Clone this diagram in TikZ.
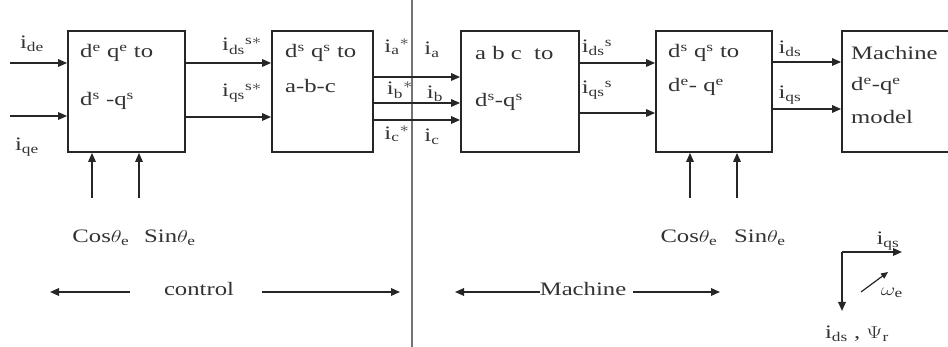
\documentclass[tikz,border=0pt]{standalone}
\usepackage{fontspec}
\setmainfont{Liberation Serif}
\setmathrm{Liberation Serif}
\usepackage{graphicx}
\usetikzlibrary{arrows.meta}
\newcommand{\W}[1]{\scalebox{1.3}[1]{#1}}
\newcommand{\R}[1]{\mathrm{#1}}
\begin{document}
\begin{tikzpicture}[x=1pt,y=-1pt,
  blk/.style={draw=black!85, line width=1.8pt, inner sep=0pt, minimum height=121pt},
  arr/.style={-{Triangle[length=9pt,width=7.5pt]}, line width=1.6pt, draw=black!85},
  sarr/.style={-{Triangle[length=7pt,width=6pt]}, line width=1.2pt, draw=black!85},
  txt/.style={font=\fontsize{19}{22}\selectfont, text=black!80, inner sep=0pt},
  divider/.style={draw=black!55, line width=1.2pt}]
\useasboundingbox (0,0) rectangle (948,347);
\clip (0,0) rectangle (948,347);
\fill[white] (0,0) rectangle (948,347);

% blocks
\node[blk, minimum width=117pt] (b1) at (126.5,91.5) {};
\node[blk, minimum width=101pt] (b2) at (322.5,91.5) {};
\node[blk, minimum width=118pt] (b3) at (520,91.5) {};
\node[blk, minimum width=116pt] (b4) at (714,91.5) {};
\node[blk, minimum width=140pt] (b5) at (912,91.5) {};

% block texts
\node[txt, anchor=west] (t1a) at (80,53) {\W{d\textsuperscript{e} q\textsuperscript{e} to}};
\node[txt, anchor=west] (t1b) at (80,101) {\W{d\textsuperscript{s} -q\textsuperscript{s}}};
\node[txt, anchor=west] (t2a) at (285,53) {\W{d\textsuperscript{s} q\textsuperscript{s} to}};
\node[txt, anchor=west] (t2b) at (285,86) {\W{a-b-c}};
\node[txt, anchor=west] (t3a) at (475,53) {\W{a b c\ \ to}};
\node[txt, anchor=west] (t3b) at (475,102) {\W{d\textsuperscript{s}-q\textsuperscript{s}}};
\node[txt, anchor=west] (t4a) at (668,53) {\W{d\textsuperscript{s} q\textsuperscript{s} to}};
\node[txt, anchor=west] (t4b) at (668,87) {\W{d\textsuperscript{e}- q\textsuperscript{e}}};
\node[txt, anchor=west] (t5a) at (851,53) {\W{Machine}};
\node[txt, anchor=west] (t5b) at (851,86) {\W{d\textsuperscript{e}-q\textsuperscript{e}}};
\node[txt, anchor=west] (t5c) at (851,117) {\W{model}};

% divider
\coordinate (dv1) at (412,0);
\coordinate (dv2) at (412,347);
\draw[divider] (dv1) -- (dv2);

% row helpers
\coordinate (i1) at (10,63);
\coordinate (i2) at (10,116);
\coordinate (y2) at (0,117);
\coordinate (ya) at (0,77);
\coordinate (yb) at (0,103);
\coordinate (yc) at (0,120);
\coordinate (y3) at (0,113);
\coordinate (y4) at (0,62);
\coordinate (y5) at (0,109);

% connectors
\draw[arr] (i1) -- (i1 -| b1.west);
\draw[arr] (i2) -- (i2 -| b1.west);
\draw[arr] (b1.east |- i1) -- (b2.west |- i1);
\draw[arr] (b1.east |- y2) -- (b2.west |- y2);
\draw[arr] (b2.east |- ya) -- (b3.west |- ya);
\draw[arr] (b2.east |- yb) -- (b3.west |- yb);
\draw[arr] (b2.east |- yc) -- (b3.west |- yc);
\draw[arr] (b3.east |- i1) -- (b4.west |- i1);
\draw[arr] (b3.east |- y3) -- (b4.west |- y3);
\draw[arr] (b4.east |- y4) -- (b5.west |- y4);
\draw[arr] (b4.east |- y5) -- (b5.west |- y5);

% cos/sin inputs
\coordinate (c1) at (92,198);
\coordinate (c2) at (139,198);
\coordinate (c3) at (690,198);
\coordinate (c4) at (737,198);
\draw[arr] (c1) -- (c1 |- b1.south);
\draw[arr] (c2) -- (c2 |- b1.south);
\draw[arr] (c3) -- (c3 |- b4.south);
\draw[arr] (c4) -- (c4 |- b4.south);
\node[txt] (cs1) at (101,238) {\W{Cos$\theta_{\R{e}}$}};
\node[txt] (sn1) at (170,238) {\W{Sin$\theta_{\R{e}}$}};
\node[txt] (cs2) at (689,238) {\W{Cos$\theta_{\R{e}}$}};
\node[txt] (sn2) at (760,238) {\W{Sin$\theta_{\R{e}}$}};

% signal labels
\node[txt] (l1) at (32,44) {\W{$\R{i}_{\R{de}}$}};
\node[txt] (l2) at (27,147) {\W{$\R{i}_{\R{qe}}$}};
\node[txt] (l3) at (242,46) {\W{$\R{i}_{\R{ds}}{}^{\R{s*}}$}};
\node[txt] (l4) at (242,93) {\W{$\R{i}_{\R{qs}}{}^{\R{s*}}$}};
\node[txt] (la1) at (397,47) {\W{$\R{i}_{\R{a}}{}^{*}$}};
\node[txt] (la2) at (432,50) {\W{$\R{i}_{\R{a}}$}};
\node[txt] (lb1) at (400,90) {\W{$\R{i}_{\R{b}}{}^{*}$}};
\node[txt] (lb2) at (435,94) {\W{$\R{i}_{\R{b}}$}};
\node[txt] (lc1) at (397,134) {\W{$\R{i}_{\R{c}}{}^{*}$}};
\node[txt] (lc2) at (432,137) {\W{$\R{i}_{\R{c}}$}};
\node[txt] (l5) at (597,48) {\W{$\R{i}_{\R{ds}}{}^{\R{s}}$}};
\node[txt] (l6) at (597,90) {\W{$\R{i}_{\R{qs}}{}^{\R{s}}$}};
\node[txt] (l7) at (790,49) {\W{$\R{i}_{\R{ds}}$}};
\node[txt] (l8) at (790,95) {\W{$\R{i}_{\R{qs}}$}};

% control / machine rows
\node[txt] (ctl) at (199,289) {\W{control}};
\coordinate (cl0) at (130,292);
\coordinate (cl1) at (50,292);
\coordinate (cr0) at (262,292);
\coordinate (cr1) at (400,292);
\draw[arr] (cl0) -- (cl1);
\draw[arr] (cr0) -- (cr1);
\node[txt] (mch) at (583,289) {\W{Machine}};
\coordinate (ml1) at (455,292);
\coordinate (mr0) at (633,292);
\coordinate (mr1) at (720,292);
\draw[arr] (mch.west |- ml1) -- (ml1);
\draw[arr] (mr0) -- (mr1);

% axes
\coordinate (o) at (842,252);
\coordinate (ax) at (902,252);
\coordinate (ay) at (842,311);
\draw[arr] (o) -- (ax);
\draw[arr] (o) -- (ay);
\coordinate (w1) at (861,292);
\coordinate (w2) at (888,272);
\draw[sarr] (w1) -- (w2);
\node[txt] (lq) at (888,241) {\W{$\R{i}_{\R{qs}}$}};
\node[txt] (lw) at (892,293) {\W{$\omega_{\R{e}}$}};
\node[txt] (ld) at (857,334) {\W{$\R{i}_{\R{ds}}$ , $\Psi_{\R{r}}$}};
\end{tikzpicture}
\end{document}
